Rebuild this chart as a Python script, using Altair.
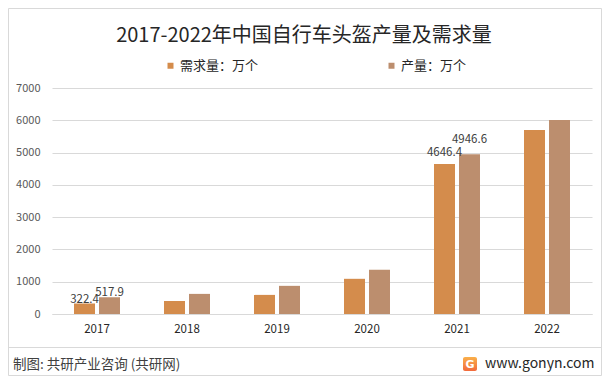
import altair as alt
import pandas as pd

FONT = "Noto Sans CJK SC"

years = ["2017", "2018", "2019", "2020", "2021", "2022"]
demand = [322.4, 405, 592, 1090, 4646.4, 5700]
production = [517.9, 623, 872, 1371, 4946.6, 6012]
series = ["需求量：万个", "产量：万个"]
colors = ["#D48C4C", "#BC8E6E"]
y_ticks = [0, 1000, 2000, 3000, 4000, 5000, 6000, 7000]
labeled_years = ["2017", "2021"]

title_text = "2017-2022年中国自行车头盔产量及需求量"
source_text = "制图: 共研产业咨询 (共研网)"
site_text = "www.gonyn.com"

rows = []
for i, yr in enumerate(years):
    rows.append({"year": yr, "series": series[0], "value": demand[i]})
    rows.append({"year": yr, "series": series[1], "value": production[i]})
df = pd.DataFrame(rows)

x_enc = alt.X(
    "year:N", sort=years,
    scale=alt.Scale(paddingInner=0.489, paddingOuter=0.2445),
    axis=alt.Axis(title=None, labelAngle=0, labelFontSize=11.5, labelColor="#262626",
                  labelFont=FONT, ticks=False, domainColor="#d9d9d9", labelPadding=9),
)
xoff_enc = alt.XOffset("series:N", sort=series,
                       scale=alt.Scale(paddingInner=0.16, paddingOuter=0))
y_enc = alt.Y(
    "value:Q", scale=alt.Scale(domain=[0, 7000]),
    axis=alt.Axis(title=None, values=y_ticks, format="d", ticks=False, domain=False,
                  gridColor="#d9d9d9", labelPadding=12, labelFontSize=11,
                  labelColor="#595959", labelFont=FONT),
)

base = alt.Chart(df)

bars = base.mark_bar().encode(
    x=x_enc, xOffset=xoff_enc, y=y_enc,
    color=alt.Color(
        "series:N", sort=series,
        scale=alt.Scale(domain=series, range=colors),
        legend=alt.Legend(orient="none", legendX=112, legendY=-29, direction="horizontal",
                          title=None, symbolType="square", symbolSize=36,
                          symbolStrokeWidth=0, labelFontSize=13, labelFont=FONT,
                          labelColor="#262626", columnPadding=126, labelOffset=3),
    ),
)


def value_labels(year, ser, dy):
    return base.transform_filter(
        (alt.datum.year == year) & (alt.datum.series == ser)
    ).mark_text(
        font=FONT, fontSize=11.5, color="#404040", baseline="alphabetic", dy=dy
    ).encode(x=x_enc, xOffset=xoff_enc, y=y_enc,
             text=alt.Text("value:Q", format=".1f"))


lab1 = value_labels(labeled_years[0], series[0], -1)
lab2 = value_labels(labeled_years[0], series[1], -1)
lab3 = value_labels(labeled_years[1], series[0], -8)
lab4 = value_labels(labeled_years[1], series[1], -11)

tdf = pd.DataFrame({"t": [title_text], "s": [source_text], "w": [site_text]})
tb = alt.Chart(tdf)

title = tb.mark_text(font=FONT, fontSize=20, color="#262626", baseline="middle",
                     align="center").encode(text="t:N", x=alt.value(252), y=alt.value(-52))
source = tb.mark_text(font=FONT, fontSize=13.5, color="#404040", baseline="middle",
                      align="left").encode(text="s:N", x=alt.value(-39), y=alt.value(276.5))
site = tb.mark_text(font=FONT, fontSize=14, color="#262626", baseline="middle",
                    align="left").encode(text="w:N", x=alt.value(433), y=alt.value(275.5))
icon = tb.mark_rect(cornerRadius=2, color=alt.Gradient(
    gradient="linear", x1=0, y1=0, x2=0, y2=1,
    stops=[alt.GradientStop(color="#F9B04A", offset=0),
           alt.GradientStop(color="#F26A3C", offset=1)])).encode(
    x=alt.value(411), x2=alt.value(425), y=alt.value(269), y2=alt.value(283))
icon_g = tb.mark_text(font="DejaVu Sans", fontSize=11, fontWeight="bold", color="white",
                      baseline="middle", align="center").encode(
    text=alt.value("G"), x=alt.value(418), y=alt.value(276.5))
sep = tb.mark_rule(color="#d9d9d9", strokeWidth=1).encode(
    x=alt.value(-44), x2=alt.value(550), y=alt.value(259.5))
border = tb.mark_rect(fill=None, stroke="#d9d9d9", strokeWidth=1).encode(
    x=alt.value(-43.5), x2=alt.value(549.5), y=alt.value(-79.5), y2=alt.value(287.5))

chart = alt.layer(border, sep, bars, lab1, lab2, lab3, lab4, title, source, icon, icon_g,
                  site).properties(
    width=540, height=226,
    autosize=alt.AutoSizeParams(type="none"),
    padding={"left": 44, "top": 80, "right": 10, "bottom": 62},
    background="white",
).configure_view(stroke=None)

chart.save("out.html", embed_options={"renderer": "svg", "actions": False})
